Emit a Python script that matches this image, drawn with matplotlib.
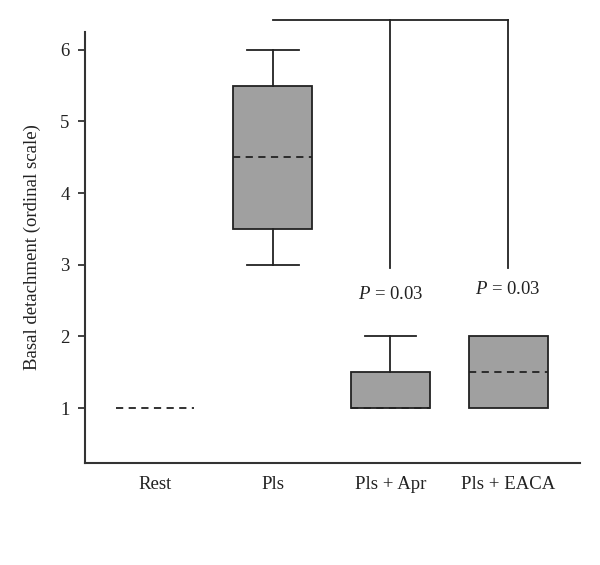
import matplotlib.pyplot as plt

plt.rcParams['font.family'] = ['Liberation Serif', 'DejaVu Serif']
plt.rcParams['mathtext.fontset'] = 'custom'
plt.rcParams['mathtext.it'] = 'Liberation Serif:italic'
plt.rcParams['mathtext.rm'] = 'Liberation Serif'

groups = ['Rest', 'Pls', 'Pls + Apr', 'Pls + EACA']
q1 = [1, 3.5, 1, 1]
q3 = [1, 5.5, 1.5, 2]
medians = [1, 4.5, 1, 1.5]
whis_lo = [1, 3, 1, 1]
whis_hi = [1, 6, 2, 2]
p_labels = ['0.03', '0.03']
p_groups = [3, 4]
p_y = [2.58, 2.65]

fig = plt.figure(figsize=(6, 5.65), dpi=100)
ax = fig.add_axes([0.1417, 0.1805, 0.825, 0.763])

stats = []
for i, g in enumerate(groups):
    stats.append(dict(label=g, med=medians[i], q1=q1[i], q3=q3[i],
                      whislo=whis_lo[i], whishi=whis_hi[i], fliers=[]))

pos = [1, 2, 3, 4]
bp = ax.bxp(stats, positions=pos, widths=0.67, patch_artist=True,
            showfliers=False,
            boxprops=dict(facecolor='#a0a0a0', edgecolor='#222222', linewidth=1.3),
            medianprops=dict(color='#222222', linestyle=(0, (4, 3)), linewidth=1.3),
            whiskerprops=dict(color='#222222', linewidth=1.3),
            capprops=dict(color='#222222', linewidth=1.3),
            capwidths=0.44)

# hide zero-length parts
for i in range(len(groups)):
    if q1[i] == q3[i]:
        bp['boxes'][i].set_linewidth(0)
        bp['boxes'][i].set_facecolor('none')
    if whis_lo[i] == q1[i]:
        bp['caps'][2 * i].set_visible(False)
        bp['whiskers'][2 * i].set_visible(False)
    if whis_hi[i] == q3[i]:
        bp['caps'][2 * i + 1].set_visible(False)
        bp['whiskers'][2 * i + 1].set_visible(False)
for m in bp['medians']:
    m.set_zorder(5)

# significance bracket
top = 6.42
ax.plot([2, 4], [top, top], color='#222222', lw=1.3, clip_on=False)
for g in p_groups:
    ax.plot([g, g], [top, 2.955], color='#222222', lw=1.3, clip_on=False)
for g, lab, y in zip(p_groups, p_labels, p_y):
    ax.text(g, y, '$P$ = ' + lab, ha='center', va='center', fontsize=13.5,
            color='#222222')

ax.set_xlim(0.405, 4.61)
ax.set_ylim(0.232, 6.25)
ax.set_yticks([1, 2, 3, 4, 5, 6])
ax.set_xticks(pos)
ax.set_xticklabels(groups)
ax.tick_params(axis='x', length=0, pad=9, labelsize=13.5, colors='#222222')
ax.tick_params(axis='y', length=5, width=1.3, labelsize=13.5, color='#333333',
               labelcolor='#222222', pad=6)
ax.set_ylabel('Basal detachment (ordinal scale)', fontsize=13.5, labelpad=14,
              color='#222222')
for s in ['top', 'right']:
    ax.spines[s].set_visible(False)
for s in ['left', 'bottom']:
    ax.spines[s].set_linewidth(1.5)
    ax.spines[s].set_color('#333333')

fig.savefig('out.png', dpi=100)
